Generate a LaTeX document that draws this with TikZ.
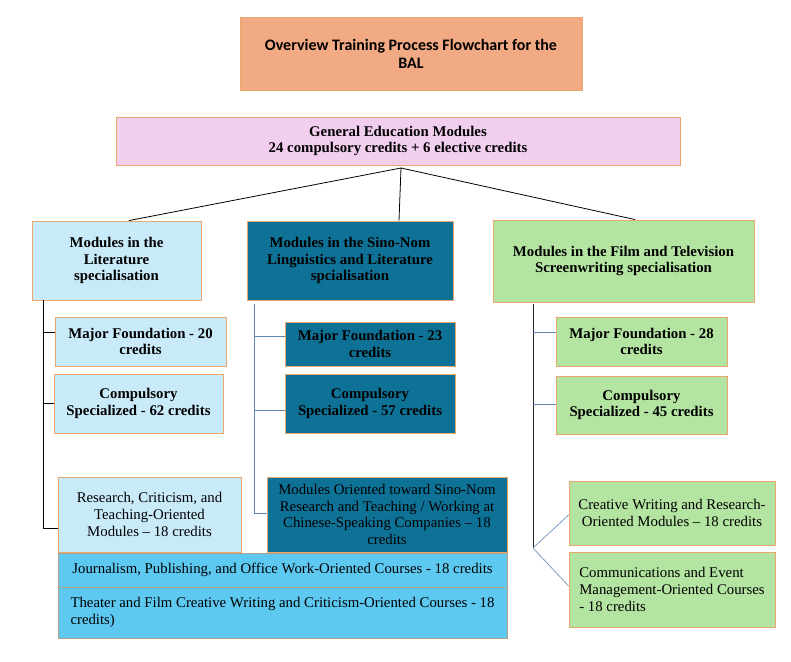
\documentclass[tikz,border=0pt]{standalone}
\usepackage{fontspec}
\setmainfont{Liberation Serif}
\newfontfamily\titlefont{Carlito}
\definecolor{titlefill}{HTML}{F2AA84}
\definecolor{pinkfill}{HTML}{F2CEEE}
\definecolor{lbluefill}{HTML}{C9EAF8}
\definecolor{tealfill}{HTML}{0E7297}
\definecolor{greenfill}{HTML}{B4E4A1}
\definecolor{bbluefill}{HTML}{5DC9F1}
\definecolor{bordc}{HTML}{EBA66C}
\definecolor{bordg}{HTML}{B89E86}
\definecolor{linkblue}{HTML}{5E86B2}
\tikzset{
  bx/.style={draw=bordc, line width=0.9pt, inner sep=0pt, align=center,
    font=\fontsize{14.8}{16.7}\selectfont},
  bbx/.style={bx, font=\fontsize{14.8}{16.7}\selectfont\bfseries},
  lbx/.style={bx, align=left},
  blk/.style={draw=black, line width=0.8pt},
  blu/.style={draw=linkblue, line width=0.8pt},
}
\begin{document}
\begin{tikzpicture}[x=1pt,y=-1pt]
\useasboundingbox[fill=white] (0,0) rectangle (791,661);
% top
\node[bx, fill=titlefill, minimum width=342, minimum height=73,
  font=\fontsize{16}{18}\selectfont\titlefont\bfseries] (title) at (411,53.5)
  {Overview Training Process Flowchart for the\\BAL};
\node[bbx, fill=pinkfill, minimum width=564, minimum height=48] (gen) at (398,141)
  {General Education Modules\\24 compulsory credits + 6 elective credits};
% specialisations
\node[bbx, fill=lbluefill, minimum width=169, minimum height=79] (lit) at (116.5,260.5)
  {Modules in the\\Literature\\specialisation};
\node[bbx, fill=tealfill, minimum width=206, minimum height=79] (sino) at (350,260.5)
  {Modules in the Sino-Nom\\Linguistics and Literature\\spcialisation};
\node[bbx, fill=greenfill, minimum width=261, minimum height=82] (film) at (623.5,261)
  {Modules in the Film and Television\\Screenwriting specialisation};
% literature column
\node[bbx, fill=lbluefill, minimum width=171, minimum height=49] (lmf) at (140.5,341.5)
  {Major Foundation - 20\\credits};
\node[bbx, fill=lbluefill, minimum width=169, minimum height=59] (lcs) at (138.5,403.5)
  {Compulsory\\Specialized - 62 credits};
\node[bx, fill=lbluefill, minimum width=183, minimum height=75] (res) at (149.5,514.5)
  {Research, Criticism, and\\Teaching-Oriented\\Modules – 18 credits};
% sino column
\node[bbx, fill=tealfill, minimum width=170, minimum height=44] (smf) at (370,344)
  {Major Foundation - 23\\credits};
\node[bbx, fill=tealfill, minimum width=170, minimum height=59] (scs) at (370,403.5)
  {Compulsory\\Specialized - 57 credits};
\node[bx, fill=tealfill, minimum width=240, minimum height=75] (sor) at (387,514.5)
  {Modules Oriented toward Sino-Nom\\Research and Teaching / Working at\\Chinese-Speaking Companies – 18\\credits};
% wide boxes
\node[lbx, draw=bordg, fill=bbluefill, minimum width=449, minimum height=34] (jou) at (282.5,570)
  {Journalism, Publishing, and Office Work-Oriented Courses - 18 credits};
\node[lbx, draw=bordg, fill=bbluefill, minimum width=449, minimum height=51] (the) at (282.5,612.5)
  {Theater and Film Creative Writing and Criticism-Oriented Courses - 18\\credits)};
% film column
\node[bbx, fill=greenfill, minimum width=171, minimum height=49] (fmf) at (641.5,341.5)
  {Major Foundation - 28\\credits};
\node[bbx, fill=greenfill, minimum width=171, minimum height=58] (fcs) at (641.5,405)
  {Compulsory\\Specialized - 45 credits};
\node[bx, fill=greenfill, minimum width=206, minimum height=64] (cre) at (672,513)
  {Creative Writing and Research-\\Oriented Modules – 18 credits};
\node[lbx, fill=greenfill, minimum width=206, minimum height=75] (com) at (672,589.5)
  {Communications and Event\\Management-Oriented Courses\\- 18 credits};
% connectors from general education
\coordinate (apex) at (401,168);
\draw[blk] ([xshift=12.5pt]lit.north) -- (apex) -- ([xshift=49pt]sino.north);
\draw[blk] (apex) -- ([xshift=11.5pt]film.north);
% literature trunk
\coordinate (litT) at (43,300);
\coordinate (litB) at (43,528);
\draw[blk] (litT) -- (litB) -- (litB -| res.west);
\draw[blk] ([yshift=9.5pt]lmf.west -| litT) -- ([yshift=9.5pt]lmf.west);
\draw[blk] (lcs.west -| litT) -- (lcs.west);
% sino trunk
\coordinate (sT) at (254,304);
\coordinate (sB) at (254,513);
\draw[blu] (sT) -- (sB) -- (sB -| sor.west);
\draw[blu] ([yshift=8pt]smf.west -| sT) -- ([yshift=8pt]smf.west);
\draw[blu] ([yshift=-6.5pt]scs.west -| sT) -- ([yshift=-6.5pt]scs.west);
% film trunk
\coordinate (fT) at (533,304);
\coordinate (fB) at (533,548);
\draw[draw=black!85, line width=0.8pt] (fT) -- (fB);
\draw[blu] ([yshift=9.5pt]fmf.west -| fT) -- ([yshift=9.5pt]fmf.west);
\draw[blu] ([yshift=1pt]fcs.west -| fT) -- ([yshift=1pt]fcs.west);
\draw[blu, draw=linkblue!80] ([yshift=-2pt]cre.west) -- (fB) -- ([yshift=3.5pt]com.west);
\end{tikzpicture}
\end{document}
